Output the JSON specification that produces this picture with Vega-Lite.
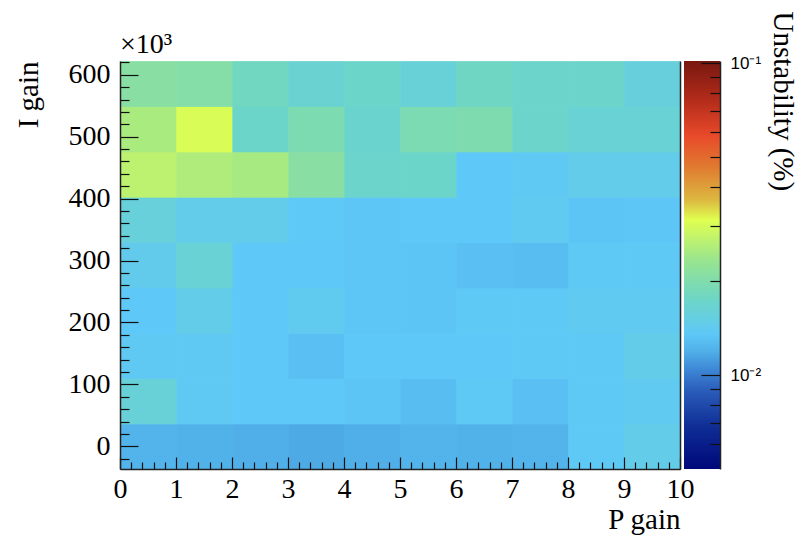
{
  "$schema": "https://vega.github.io/schema/vega-lite/v6.json",
  "background": "white",
  "padding": {"left": 14, "top": 10, "right": 5, "bottom": 5},
  "autosize": {"type": "pad"},
  "bounds": "flush",
  "spacing": 4,
  "config": {
    "view": {"stroke": null},
    "axis": {"grid": false, "labelFlush": false, "labelOverlap": false, "domainColor": "#222", "tickColor": "#111", "labelColor": "#000", "titleColor": "#000", "tickWidth": 1.2, "domainWidth": 1.5}
  },
  "hconcat": [
    {
      "width": 560,
      "height": 408,
      "title": {"text": "×10³", "anchor": "start", "frame": "group", "font": "Liberation Serif", "fontSize": 28, "fontWeight": "normal", "color": "#000", "offset": 2},
      "data": {"values": [
        {"P":0.5,"I":0,"U":0.0122},{"P":1.5,"I":0,"U":0.0120},{"P":2.5,"I":0,"U":0.0119},{"P":3.5,"I":0,"U":0.0117},{"P":4.5,"I":0,"U":0.0119},{"P":5.5,"I":0,"U":0.0122},{"P":6.5,"I":0,"U":0.0120},{"P":7.5,"I":0,"U":0.0122},{"P":8.5,"I":0,"U":0.0137},{"P":9.5,"I":0,"U":0.0146},
        {"P":0.5,"I":73.2,"U":0.0160},{"P":1.5,"I":73.2,"U":0.0138},{"P":2.5,"I":73.2,"U":0.0135},{"P":3.5,"I":73.2,"U":0.0135},{"P":4.5,"I":73.2,"U":0.0133},{"P":5.5,"I":73.2,"U":0.0128},{"P":6.5,"I":73.2,"U":0.0137},{"P":7.5,"I":73.2,"U":0.0130},{"P":8.5,"I":73.2,"U":0.0137},{"P":9.5,"I":73.2,"U":0.0140},
        {"P":0.5,"I":146.4,"U":0.0138},{"P":1.5,"I":146.4,"U":0.0138},{"P":2.5,"I":146.4,"U":0.0135},{"P":3.5,"I":146.4,"U":0.0130},{"P":4.5,"I":146.4,"U":0.0135},{"P":5.5,"I":146.4,"U":0.0135},{"P":6.5,"I":146.4,"U":0.0135},{"P":7.5,"I":146.4,"U":0.0137},{"P":8.5,"I":146.4,"U":0.0137},{"P":9.5,"I":146.4,"U":0.0147},
        {"P":0.5,"I":219.6,"U":0.0135},{"P":1.5,"I":219.6,"U":0.0147},{"P":2.5,"I":219.6,"U":0.0135},{"P":3.5,"I":219.6,"U":0.0142},{"P":4.5,"I":219.6,"U":0.0134},{"P":5.5,"I":219.6,"U":0.0133},{"P":6.5,"I":219.6,"U":0.0137},{"P":7.5,"I":219.6,"U":0.0137},{"P":8.5,"I":219.6,"U":0.0141},{"P":9.5,"I":219.6,"U":0.0141},
        {"P":0.5,"I":292.8,"U":0.0144},{"P":1.5,"I":292.8,"U":0.0163},{"P":2.5,"I":292.8,"U":0.0135},{"P":3.5,"I":292.8,"U":0.0135},{"P":4.5,"I":292.8,"U":0.0134},{"P":5.5,"I":292.8,"U":0.0133},{"P":6.5,"I":292.8,"U":0.0130},{"P":7.5,"I":292.8,"U":0.0128},{"P":8.5,"I":292.8,"U":0.0137},{"P":9.5,"I":292.8,"U":0.0137},
        {"P":0.5,"I":366,"U":0.0158},{"P":1.5,"I":366,"U":0.0145},{"P":2.5,"I":366,"U":0.0145},{"P":3.5,"I":366,"U":0.0136},{"P":4.5,"I":366,"U":0.0134},{"P":5.5,"I":366,"U":0.0135},{"P":6.5,"I":366,"U":0.0135},{"P":7.5,"I":366,"U":0.0141},{"P":8.5,"I":366,"U":0.0133},{"P":9.5,"I":366,"U":0.0134},
        {"P":0.5,"I":439.2,"U":0.0270},{"P":1.5,"I":439.2,"U":0.0255},{"P":2.5,"I":439.2,"U":0.0248},{"P":3.5,"I":439.2,"U":0.0210},{"P":4.5,"I":439.2,"U":0.0170},{"P":5.5,"I":439.2,"U":0.0172},{"P":6.5,"I":439.2,"U":0.0135},{"P":7.5,"I":439.2,"U":0.0138},{"P":8.5,"I":439.2,"U":0.0145},{"P":9.5,"I":439.2,"U":0.0145},
        {"P":0.5,"I":512.4,"U":0.0250},{"P":1.5,"I":512.4,"U":0.0305},{"P":2.5,"I":512.4,"U":0.0172},{"P":3.5,"I":512.4,"U":0.0194},{"P":4.5,"I":512.4,"U":0.0168},{"P":5.5,"I":512.4,"U":0.0193},{"P":6.5,"I":512.4,"U":0.0196},{"P":7.5,"I":512.4,"U":0.0170},{"P":8.5,"I":512.4,"U":0.0163},{"P":9.5,"I":512.4,"U":0.0163},
        {"P":0.5,"I":585.6,"U":0.0210},{"P":1.5,"I":585.6,"U":0.0205},{"P":2.5,"I":585.6,"U":0.0180},{"P":3.5,"I":585.6,"U":0.0165},{"P":4.5,"I":585.6,"U":0.0172},{"P":5.5,"I":585.6,"U":0.0160},{"P":6.5,"I":585.6,"U":0.0177},{"P":7.5,"I":585.6,"U":0.0170},{"P":8.5,"I":585.6,"U":0.0170},{"P":9.5,"I":585.6,"U":0.0156}
      ]},
      "layer": [
        {
          "mark": {"type": "rect", "strokeWidth": 0},
          "encoding": {
            "x": {"field": "P", "type": "quantitative", "bin": {"step": 1, "extent": [0, 10], "nice": false},
                  "scale": {"domain": [0, 10], "nice": false, "zero": false},
                  "axis": {"orient": "bottom", "zindex": 1, "values": [0,1,2,3,4,5,6,7,8,9,10], "format": "d", "tickSize": -12, "labelPadding": 18,
                           "labelFont": "Liberation Serif", "labelFontSize": 28,
                           "title": "P gain", "titleFont": "Liberation Serif", "titleFontSize": 29, "titleFontWeight": "normal", "titleAnchor": "end", "titlePadding": 2}},
            "y": {"field": "I", "type": "quantitative", "bin": {"step": 73.2, "anchor": -36.6, "extent": [-36.6, 622.2], "nice": false},
                  "scale": {"domain": [-36.6, 622.2], "nice": false, "zero": false},
                  "axis": {"orient": "left", "zindex": 1, "values": [0,100,200,300,400,500,600], "format": "d", "tickSize": -18, "labelPadding": 28,
                           "labelFont": "Liberation Serif", "labelFontSize": 28,
                           "title": "I gain", "titleFont": "Liberation Serif", "titleFontSize": 29, "titleFontWeight": "normal", "titleAnchor": "end", "titlePadding": 25}},
            "color": {"field": "U", "type": "quantitative",
                      "scale": {"type": "log", "interpolate": "rgb", "nice": false,
                                "domain": [0.005, 0.00676, 0.00889, 0.01045, 0.01194, 0.01353, 0.01765, 0.02319, 0.03139, 0.03638, 0.04642, 0.05834, 0.07721, 0.1015],
                                "range": ["#00087a", "#0e2c94", "#2a5cba", "#3e88d6", "#50b0e8", "#5ec8f8", "#6ed6c4", "#98e490", "#e0ff50", "#dcb840", "#e07a30", "#e84a2a", "#b02a1a", "#781810"]},
                      "legend": null}
          }
        },
        {
          "mark": {"type": "rect", "strokeWidth": 0},
          "encoding": {
            "x": {"field": "P", "type": "quantitative", "bin": {"step": 1, "extent": [0, 10], "nice": false},
                  "axis": {"orient": "bottom", "zindex": 1, "values": [0.2,0.4,0.6,0.8,1.2,1.4,1.6,1.8,2.2,2.4,2.6,2.8,3.2,3.4,3.6,3.8,4.2,4.4,4.6,4.8,5.2,5.4,5.6,5.8,6.2,6.4,6.6,6.8,7.2,7.4,7.6,7.8,8.2,8.4,8.6,8.8,9.2,9.4,9.6,9.8],
                           "tickSize": -7, "labels": false, "domain": false, "title": null}},
            "y": {"field": "I", "type": "quantitative", "bin": {"step": 73.2, "anchor": -36.6, "extent": [-36.6, 622.2], "nice": false},
                  "axis": {"orient": "left", "zindex": 1, "values": [-20,20,40,60,80,120,140,160,180,220,240,260,280,320,340,360,380,420,440,460,480,520,540,560,580,620],
                           "tickSize": -9, "labels": false, "domain": false, "title": null}},
            "color": {"field": "U", "type": "quantitative", "legend": null}
          }
        },
        {
          "mark": {"type": "rect", "strokeWidth": 0},
          "encoding": {
            "x": {"field": "P", "type": "quantitative", "bin": {"step": 1, "extent": [0, 10], "nice": false}, "axis": null},
            "y": {"field": "I", "type": "quantitative", "bin": {"step": 73.2, "anchor": -36.6, "extent": [-36.6, 622.2], "nice": false},
                  "axis": {"orient": "right", "zindex": 1, "ticks": false, "labels": false, "title": null}},
            "color": {"field": "U", "type": "quantitative", "legend": null}
          }
        }
      ],
      "resolve": {"axis": {"x": "independent", "y": "independent"}}
    },
    {
      "width": 36,
      "height": 408,
      "data": {"values": [{"lo": 0.005, "hi": 0.1015}]},
      "layer": [
        {
          "mark": {"type": "rect", "strokeWidth": 0, "color": {"gradient": "linear", "x1": 0, "y1": 1, "x2": 0, "y2": 0, "stops": [
            {"offset": 0, "color": "#00087a"}, {"offset": 0.1005, "color": "#0e2c94"}, {"offset": 0.1912, "color": "#2a5cba"}, {"offset": 0.2451, "color": "#3e88d6"},
            {"offset": 0.2892, "color": "#50b0e8"}, {"offset": 0.3309, "color": "#5ec8f8"}, {"offset": 0.4191, "color": "#6ed6c4"}, {"offset": 0.5098, "color": "#98e490"},
            {"offset": 0.6103, "color": "#e0ff50"}, {"offset": 0.6593, "color": "#dcb840"}, {"offset": 0.7402, "color": "#e07a30"}, {"offset": 0.8162, "color": "#e84a2a"},
            {"offset": 0.9093, "color": "#b02a1a"}, {"offset": 1, "color": "#781810"}]}},
          "encoding": {
            "x": {"datum": 0, "type": "quantitative", "scale": {"domain": [0, 1], "nice": false}, "axis": null},
            "x2": {"datum": 1},
            "y": {"field": "lo", "type": "quantitative", "scale": {"type": "log", "domain": [0.005, 0.1015], "nice": false},
                  "axis": {"orient": "right", "zindex": 1, "values": [0.01, 0.1], "tickSize": -19, "labelPadding": 29,
                           "labelExpr": "datum.value > 0.05 ? '10⁻¹' : '10⁻²'", "labelFont": "Liberation Sans", "labelFontSize": 17,
                           "title": "Unstability (%)", "titleFont": "Liberation Serif", "titleFontSize": 29, "titleFontWeight": "normal",
                           "titleAngle": 90, "titleAlign": "left", "titleBaseline": "bottom", "titleY": -50, "titlePadding": 7}},
            "y2": {"field": "hi"}
          }
        },
        {
          "mark": {"type": "rect", "opacity": 0},
          "encoding": {
            "x": {"datum": 0, "type": "quantitative", "axis": null},
            "x2": {"datum": 1},
            "y": {"field": "lo", "type": "quantitative",
                  "axis": {"orient": "right", "zindex": 1, "values": [0.006, 0.007, 0.008, 0.009, 0.02, 0.03, 0.04, 0.05, 0.06, 0.07, 0.08, 0.09],
                           "tickSize": -10, "labels": false, "domain": false, "title": null}},
            "y2": {"field": "hi"}
          }
        }
      ],
      "resolve": {"axis": {"y": "independent"}}
    }
  ]
}
